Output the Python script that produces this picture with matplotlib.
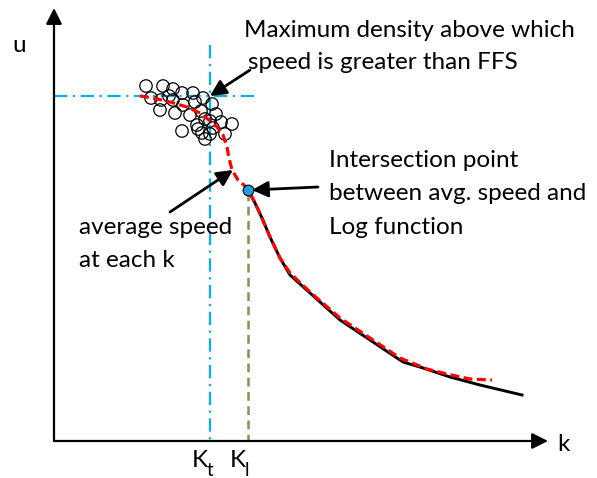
import matplotlib.pyplot as plt

plt.rcParams['font.family'] = ['Lato', 'DejaVu Sans']

# schematic coordinates (k to the right, u downward in picture units)
scatter_k = [146, 163, 173, 182, 151, 161, 173, 193, 203, 195, 212, 160, 183, 175, 190,
             201, 205, 216, 197, 210, 221, 232, 182, 198, 202, 210, 225, 205, 213, 169]
scatter_u = [86, 86, 89, 93, 98, 100, 100, 93, 98, 102, 104, 110, 105, 113, 115,
             111, 119, 114, 125, 121, 122, 124, 131, 129, 133, 134, 134, 139, 128, 96]

avg_k = [140, 153, 170, 187, 200, 209, 217, 223, 227, 229, 232, 238, 245, 250,
         255, 262, 270, 280, 290, 310, 340, 370, 400, 427, 447, 470, 492]
avg_u = [96, 98, 102, 107, 113, 120, 127, 135, 147, 158, 170, 180, 186, 193,
         203, 218, 237, 258, 273, 292, 318, 338, 358, 369, 374, 379, 380]

log_k = [248, 255, 262, 270, 280, 290, 310, 340, 370, 403, 423, 450, 480, 522]
log_u = [190, 203, 218, 237, 258, 275, 293, 320, 340, 362, 368, 377, 385, 395]

kt, kl = 210, 248
ffs_u = 96
origin = (54, 441)

fig = plt.figure(figsize=(5.97, 4.78), dpi=100)
ax = fig.add_axes([0, 0, 1, 1])
ax.set_xlim(0, 597)
ax.set_ylim(478, 0)
ax.axis('off')

cyan = '#00B0F0'
ax.plot([origin[0], 258], [ffs_u, ffs_u], color=cyan, lw=1.6, dashes=(6, 2.5, 1, 2.5))
ax.plot([kt, kt], [45, origin[1]], color=cyan, lw=1.6, dashes=(6, 2.5, 1, 2.5))
ax.plot([kl, kl], [192, origin[1]], color='#948A54', lw=1.8, dashes=(3.5, 2.2))

ax.scatter(scatter_k, scatter_u, s=80, facecolors='none', edgecolors='black', lw=0.9, zorder=3)
ax.plot(log_k, log_u, color='black', lw=2.1, zorder=4)
ax.plot(avg_k, avg_u, color='red', lw=2.3, dashes=(2.8, 1.4), zorder=5)
ax.scatter([kl], [190], s=60, color='#1F9FDE', edgecolors='black', lw=0.8, zorder=6)

# axes
arrow = dict(arrowstyle='-|>', color='black', lw=1.6, mutation_scale=24, shrinkA=0, shrinkB=0)
ax.annotate('', xy=(origin[0], 8), xytext=origin, arrowprops=arrow)
ax.annotate('', xy=(548, origin[1]), xytext=origin, arrowprops=arrow)

fs = 17.5
ax.text(12, 52, 'u', fontsize=fs)
ax.text(557, 451, 'k', fontsize=fs)
ax.text(192, 467, 'K', fontsize=fs)
ax.text(207, 476, 't', fontsize=fs - 4)
ax.text(230, 467, 'K', fontsize=fs)
ax.text(245, 476, 'l', fontsize=fs - 4)

# annotations
pointer = dict(arrowstyle='-|>', color='black', lw=2, mutation_scale=24, shrinkA=0, shrinkB=0)
ax.text(244, 37, 'Maximum density above which', fontsize=fs)
ax.text(248, 69, 'speed is greater than FFS', fontsize=fs)
ax.annotate('', xy=(210, 96), xytext=(250, 70), arrowprops=pointer)

ax.text(329, 167, 'Intersection point', fontsize=fs)
ax.text(329, 200, 'between avg. speed and', fontsize=fs)
ax.text(329, 234, 'Log function', fontsize=fs)
ax.annotate('', xy=(252, 190), xytext=(318, 187), arrowprops=pointer)

ax.text(79, 234, 'average speed', fontsize=fs)
ax.text(79, 267, 'at each k', fontsize=fs)
ax.annotate('', xy=(233, 170), xytext=(170, 212), arrowprops=pointer)

fig.savefig('out.png', dpi=100)
